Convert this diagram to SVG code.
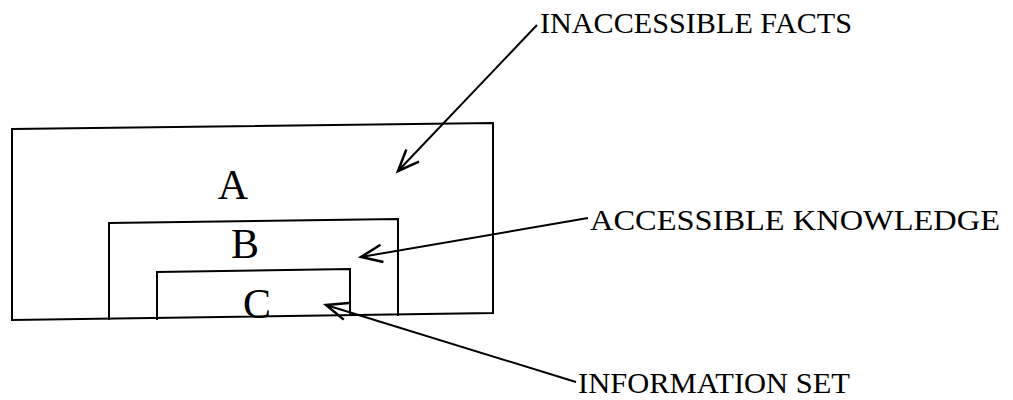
<svg xmlns="http://www.w3.org/2000/svg" width="1013" height="400" viewBox="0 0 1013 400">
<style>
.box{fill:none;stroke:#000;stroke-width:2}
.lbl{font-family:"Liberation Serif",serif;font-size:29px;fill:#000}
.big{font-family:"Liberation Serif",serif;font-size:42px;fill:#000}
.conn{fill:none;stroke:#000;stroke-width:2;marker-end:url(#ah)}
</style>
<defs>
<marker id="ah" markerUnits="userSpaceOnUse" markerWidth="30" markerHeight="30" refX="0" refY="0" viewBox="-20 -10 24 20" orient="auto" overflow="visible">
<path d="M-17,-7 L0,0 L-17,7" fill="none" stroke="#000" stroke-width="2"/>
</marker>
</defs>
<g id="nodeA">
<path class="box" d="M12,129 L493,123 L493,313 L12,320 Z"/>
<text class="big" x="233" y="199" text-anchor="middle">A</text>
</g>
<g id="nodeB">
<path class="box" d="M109,320 L109,223 L398,219 L398,316"/>
<text class="big" x="245" y="258" text-anchor="middle">B</text>
</g>
<g id="nodeC">
<path class="box" d="M157,320 L157,272 L350,269 L350,316"/>
<text class="big" x="257" y="318" text-anchor="middle">C</text>
</g>
<g id="labels">
<text class="lbl" x="540" y="33" textLength="312" lengthAdjust="spacingAndGlyphs">INACCESSIBLE FACTS</text>
<text class="lbl" x="590" y="230" textLength="410" lengthAdjust="spacingAndGlyphs">ACCESSIBLE KNOWLEDGE</text>
<text class="lbl" x="578" y="393" textLength="272" lengthAdjust="spacingAndGlyphs">INFORMATION SET</text>
</g>
<g id="connectors">
<path class="conn" d="M537,25 L398,171"/>
<path class="conn" d="M588,218 L361,257"/>
<path class="conn" d="M576,382 L326,305"/>
</g>
</svg>
